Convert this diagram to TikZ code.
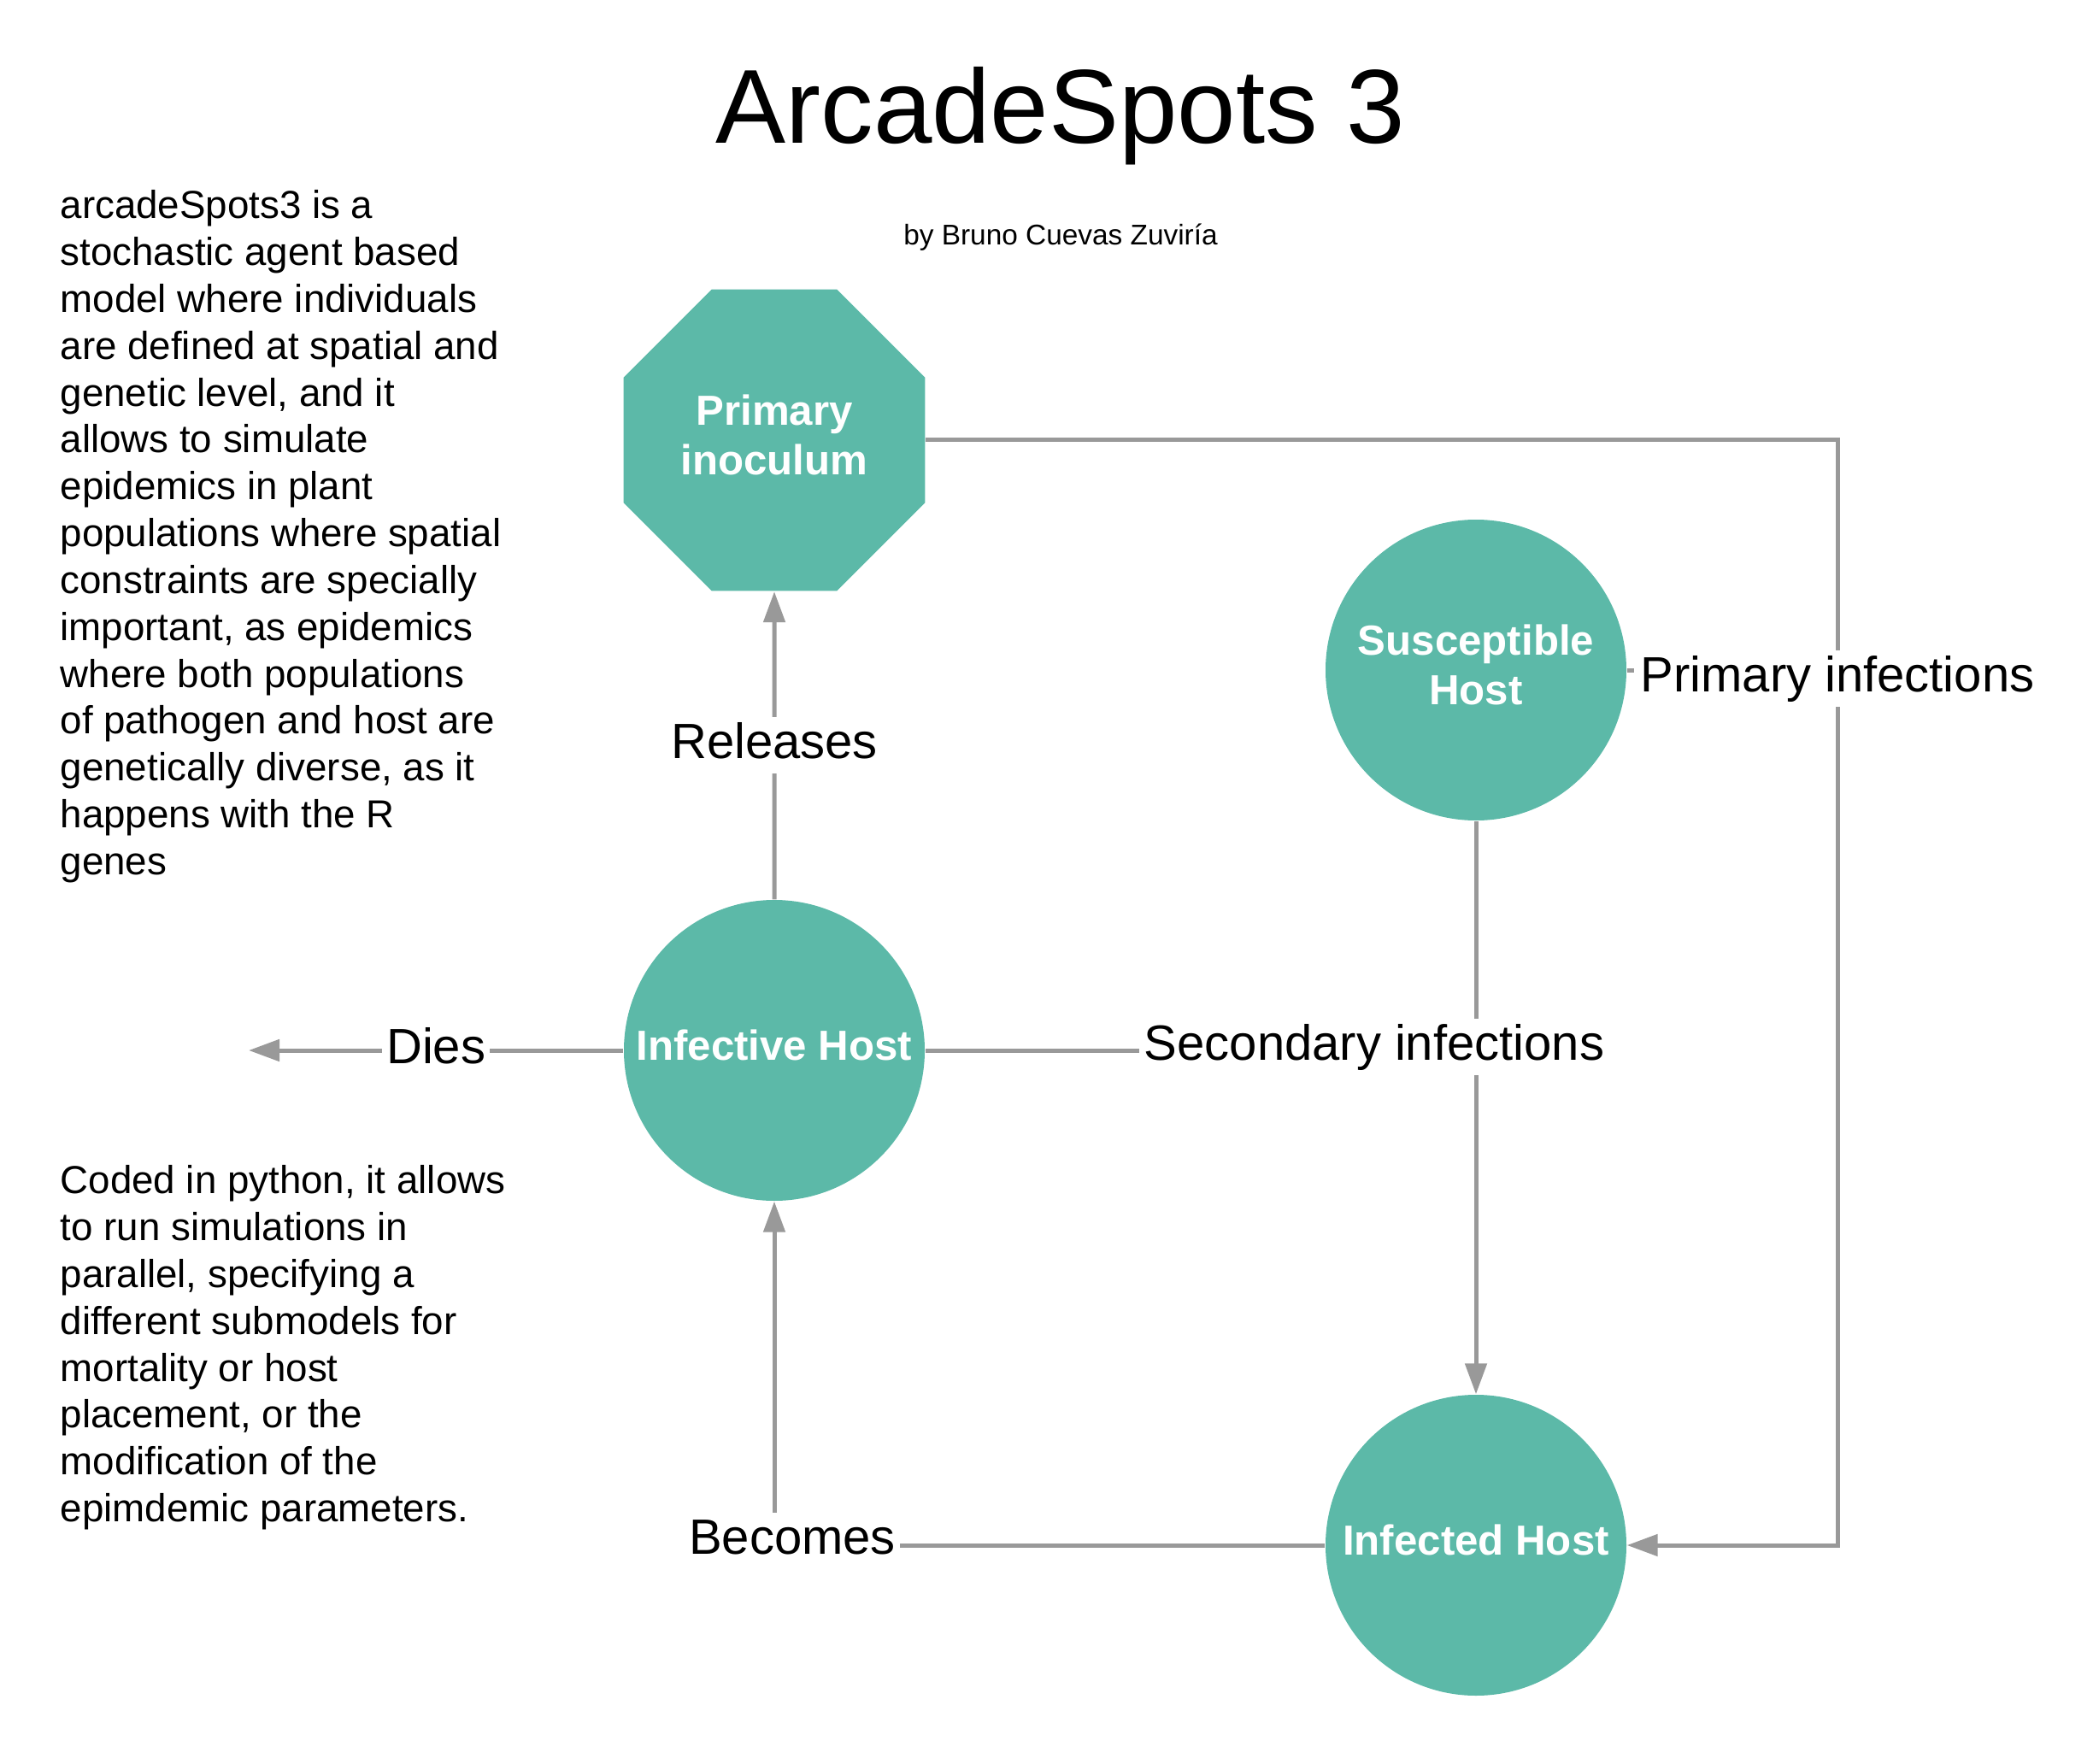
\documentclass[tikz,border=0pt]{standalone}
\usepackage{fontspec}
\setmainfont{Liberation Sans}
\usetikzlibrary{shapes.geometric,arrows.meta}
\definecolor{hostgreen}{HTML}{5CB9A8}
\definecolor{linkgray}{HTML}{999999}
\begin{document}
\begin{tikzpicture}[
  host/.style={circle,fill=hostgreen,text=white,minimum size=3.52cm,inner sep=0pt,text depth=0.12cm,align=center,font=\bfseries\fontsize{14}{16.5}\selectfont},
  link/.style={draw=linkgray,line width=0.05cm},
  flow/.style={link,-{Triangle[length=0.36cm,width=0.25cm]}},
  tag/.style={fill=white,inner xsep=0.05cm,inner ysep=0.06cm,text height=0.42cm,text depth=0.12cm,font=\fontsize{16.5}{19}\selectfont},
  blurb/.style={anchor=north west,align=left,inner sep=0pt,font=\fontsize{13}{15.6}\selectfont}]
  \useasboundingbox (0,0) rectangle (24.56,-20.64);
  \node[anchor=base,font=\fontsize{35}{42}\selectfont] (title) at (12.41,-1.68) {ArcadeSpots 3};
  \node[anchor=base,font=\fontsize{9.5}{11}\selectfont] (author) at (12.41,-2.87) {by Bruno Cuevas Zuviría};
  \node[blurb] (about) at (0.70,-2.22) {arcadeSpots3 is a\\stochastic agent based\\model where individuals\\are defined at spatial and\\genetic level, and it\\allows to simulate\\epidemics in plant\\populations where spatial\\constraints are specially\\important, as epidemics\\where both populations\\of pathogen and host are\\genetically diverse, as it\\happens with the R\\genes};
  \node[blurb] (coded) at (0.70,-13.63) {Coded in python, it allows\\to run simulations in\\parallel, specifying a\\different submodels for\\mortality or host\\placement,  or the\\modification of the\\epimdemic parameters.};

  \node[host,regular polygon,regular polygon sides=8,minimum size=3.82cm] (inoc) at (9.06,-5.15) {Primary\\inoculum};
  \node[host] (susc) at (17.27,-7.84) {Susceptible\\Host};
  \node[host] (infv) at (9.06,-12.29) {Infective Host};
  \node[host] (infd) at (17.27,-18.08) {Infected Host};
  \coordinate (dead) at (2.91,-12.29);
  \coordinate (down) at (21.50,-18.08);
  \coordinate (turn) at (9.06,-18.08);

  \draw[flow] (infv) -- node[tag] {Releases} (inoc);
  \draw[flow] (infv) -- node[tag] {Dies} (dead);
  \draw[flow] (inoc.east) -- (inoc.east -| down) -- node[tag,pos=0.216] (prim) {Primary infections} (down) -- (infd.east);
  \draw[link] (susc.east) -- (susc.east -| prim.west);
  \draw[flow] (susc) -- (infd);
  \node[tag] (sec) at (16.08,-12.25) {Secondary infections};
  \draw[link] (infv.east) -- (infv.east -| sec.west);
  \draw[flow] (infd.west) -- node[tag,pos=1,xshift=0.21cm,yshift=0.05cm] {Becomes} (turn) -- (infv.south);
\end{tikzpicture}
\end{document}
